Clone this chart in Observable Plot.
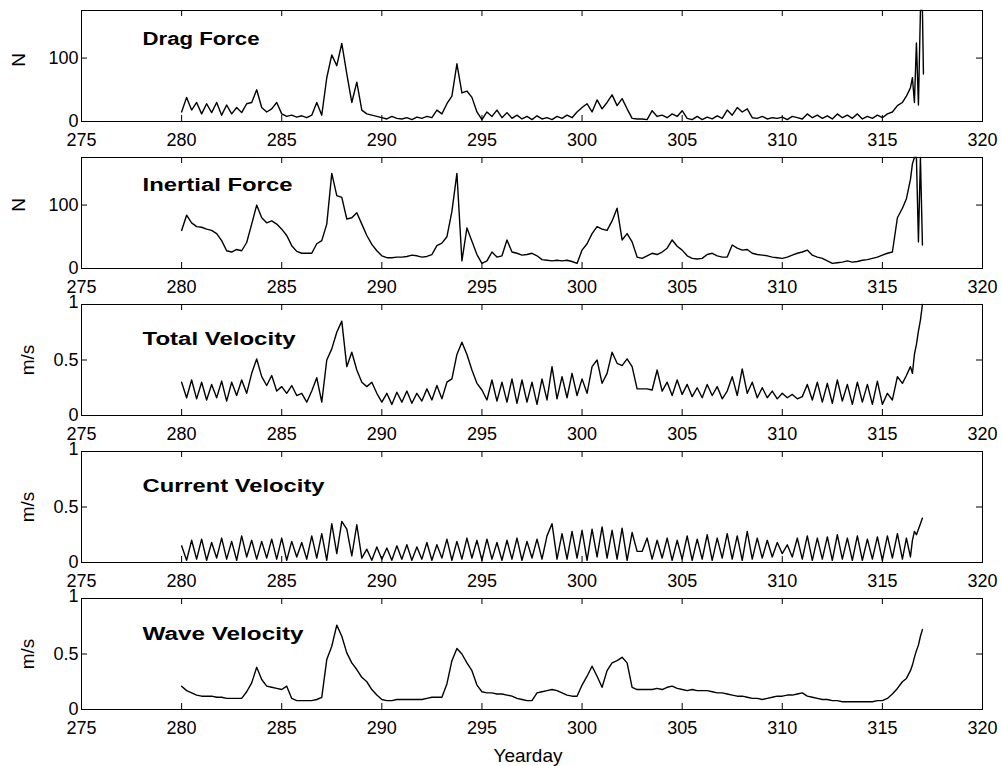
<!DOCTYPE html>
<html><head><meta charset="utf-8">
<script src="https://cdn.jsdelivr.net/npm/d3@7"></script>
<script src="https://cdn.jsdelivr.net/npm/@observablehq/plot@0.6"></script>
<style>
body{margin:0;background:#fff;}
#chart{padding-top:1px;width:1002px;}
#chart svg{display:block;}
</style></head><body><div id="chart"></div><script>
const xTicks = [275, 280, 285, 290, 295, 300, 305, 310, 315, 320];
const forceTicks = [0, 100];
const velTicks = [0, 0.5, 1];
// sampling grid: quarter days 280..315.75, then a finer tail
const mainDays = d3.range(280, 316, 0.25);
const tailDays = [316, 316.2, 316.4, 316.5, 316.6, 316.7, 316.8, 316.9, 317.0, 317.05];
const days = mainDays.concat(tailDays);

const dragForce = [
15,38,18,30, 12,28,14,30, 10,26,12,22, 14,28,30,50, 22,15,20,30,
12,8,10,7, 9,6,10,30, 10,69,105,88, 123,75,30,62, 18,12,10,8,
6,4,8,5, 4,6,3,7, 5,8,6,18, 12,28,40,91, 45,48,38,15,
3,15,8,18, 6,14,5,10, 4,8,3,9, 4,6,3,8, 5,10,6,15,
22,28,15,34, 20,30,42,25, 36,20,5,4, 4,3,17,8, 10,6,12,8,
17,5,3,8, 3,7,4,9, 5,18,10,22, 15,20,6,5, 8,4,6,5,
7,3,8,6, 4,12,6,10, 5,9,4,12, 6,10,5,12, 4,8,5,10,
6,12,15,25,
30,40,53,69,30,124,26,175,175,75];

const inertialForce = [
60,84,72,66, 65,62,60,55, 44,28,26,30, 28,41,70,100, 80,72,75,70,
62,52,36,27, 24,24,24,39, 44,70,150,115, 112,78,80,88, 70,52,38,28,
20,17,17,18, 18,19,21,20, 18,19,22,36, 40,50,90,150, 12,64,43,22,
8,12,26,18, 20,45,26,24, 21,22,24,20, 14,13,12,13, 12,13,11,8,
29,39,55,66, 62,60,75,95, 45,55,42,18, 16,20,24,22, 26,32,45,35,
29,20,16,15, 16,22,24,20, 18,18,37,32, 29,30,24,22, 21,20,18,17,
16,18,21,24, 26,29,21,18, 16,12,8,9, 10,12,10,11, 13,14,16,18,
21,24,26,80,
95,110,140,165,175,175,42,175,37,null];

const totalVelocity = [
0.30,0.16,0.32,0.15, 0.30,0.14,0.28,0.16, 0.31,0.13,0.30,0.18, 0.32,0.20,0.38,0.51, 0.35,0.27,0.36,0.22,
0.26,0.20,0.27,0.18, 0.20,0.12,0.22,0.34, 0.12,0.50,0.60,0.75, 0.85,0.44,0.57,0.41, 0.30,0.26,0.30,0.20,
0.12,0.20,0.10,0.21, 0.12,0.22,0.11,0.20, 0.13,0.24,0.14,0.27, 0.15,0.30,0.33,0.55, 0.66,0.55,0.41,0.29,
0.23,0.14,0.32,0.13, 0.30,0.12,0.33,0.11, 0.32,0.12,0.30,0.10, 0.33,0.14,0.44,0.15, 0.35,0.16,0.38,0.18,
0.33,0.20,0.44,0.50, 0.29,0.38,0.57,0.47, 0.45,0.51,0.44,0.24, 0.24,0.24,0.23,0.41, 0.22,0.30,0.18,0.32,
0.19,0.28,0.17,0.25, 0.16,0.28,0.18,0.26, 0.15,0.22,0.35,0.18, 0.42,0.20,0.30,0.16, 0.25,0.16,0.22,0.15,
0.20,0.16,0.19,0.15, 0.17,0.28,0.14,0.30, 0.12,0.29,0.11,0.32, 0.13,0.28,0.10,0.30, 0.12,0.28,0.10,0.31,
0.10,0.20,0.14,0.35,
0.29,0.36,0.44,0.38,0.55,0.64,0.76,0.86,1.0,null];

const currentVelocity = [
0.15,0.02,0.20,0.03, 0.21,0.02,0.18,0.04, 0.22,0.03,0.19,0.02, 0.24,0.05,0.20,0.03, 0.19,0.04,0.21,0.03,
0.22,0.02,0.19,0.05, 0.18,0.03,0.24,0.04, 0.26,0.02,0.35,0.08, 0.37,0.30,0.06,0.34, 0.04,0.12,0.02,0.14,
0.03,0.13,0.02,0.15, 0.03,0.16,0.02,0.14, 0.03,0.18,0.02,0.16, 0.04,0.21,0.02,0.19, 0.03,0.22,0.04,0.20,
0.02,0.21,0.03,0.18, 0.02,0.20,0.03,0.22, 0.02,0.19,0.04,0.21, 0.03,0.24,0.35,0.03, 0.26,0.03,0.28,0.04,
0.29,0.02,0.30,0.05, 0.32,0.04,0.29,0.03, 0.31,0.02,0.27,0.10, 0.10,0.22,0.03,0.20, 0.04,0.22,0.02,0.20,
0.03,0.24,0.02,0.21, 0.03,0.25,0.02,0.22, 0.04,0.26,0.03,0.24, 0.02,0.28,0.03,0.22, 0.04,0.20,0.05,0.18,
0.08,0.16,0.05,0.22, 0.03,0.24,0.02,0.22, 0.03,0.23,0.02,0.25, 0.03,0.22,0.02,0.24, 0.02,0.21,0.03,0.23,
0.02,0.24,0.04,0.26,
0.03,0.22,0.05,0.20,0.28,0.25,0.30,0.35,0.40,null];

const waveVelocity = [
0.21,0.17,0.15,0.13, 0.12,0.12,0.12,0.11, 0.11,0.10,0.10,0.10, 0.10,0.16,0.24,0.38, 0.27,0.21,0.20,0.19,
0.18,0.21,0.10,0.08, 0.08,0.08,0.08,0.09, 0.11,0.45,0.57,0.76, 0.66,0.51,0.42,0.36, 0.29,0.25,0.18,0.13,
0.09,0.08,0.08,0.09, 0.09,0.09,0.09,0.09, 0.09,0.10,0.11,0.11, 0.11,0.23,0.44,0.55, 0.50,0.42,0.35,0.22,
0.16,0.15,0.15,0.14, 0.14,0.13,0.12,0.10, 0.09,0.08,0.08,0.15, 0.16,0.17,0.18,0.17, 0.15,0.13,0.12,0.12,
0.22,0.30,0.39,0.30, 0.20,0.35,0.42,0.44, 0.47,0.42,0.20,0.18, 0.18,0.18,0.18,0.19, 0.18,0.20,0.21,0.19,
0.18,0.17,0.18,0.17, 0.17,0.17,0.16,0.15, 0.15,0.14,0.13,0.12, 0.12,0.11,0.10,0.10, 0.09,0.10,0.11,0.12,
0.12,0.13,0.13,0.14, 0.15,0.12,0.11,0.10, 0.09,0.09,0.08,0.08, 0.07,0.07,0.07,0.07, 0.07,0.07,0.07,0.08,
0.08,0.10,0.14,0.19,
0.25,0.28,0.35,0.40,0.47,0.53,0.58,0.66,0.72,null];

const panels = [
  {values: dragForce, title: "Drag Force", titleWidth: 117, unit: "N", yMax: 175, yTicks: forceTicks, titleDy: 22, unitDx: -63, unitDy: -6},
  {values: inertialForce, title: "Inertial Force", titleWidth: 150, unit: "N", yMax: 175, yTicks: forceTicks, titleDy: 21, unitDx: -63, unitDy: -8},
  {values: totalVelocity, title: "Total Velocity", titleWidth: 153, unit: "m/s", yMax: 1, yTicks: velTicks, titleDy: 28, unitDx: -54, unitDy: 0},
  {values: currentVelocity, title: "Current Velocity", titleWidth: 182, unit: "m/s", yMax: 1, yTicks: velTicks, titleDy: 28, unitDx: -54, unitDy: 0},
  {values: waveVelocity, title: "Wave Velocity", titleWidth: 161, unit: "m/s", yMax: 1, yTicks: velTicks, titleDy: 29, unitDx: -54, unitDy: 0}
];

const W = 1002, ML = 81, MR = 20, MT = 9;
const font = "'Liberation Sans', Arial, Helvetica, sans-serif";
const chart = document.getElementById("chart");

panels.forEach((p, k) => {
  const last = k === panels.length - 1;
  const MB = last ? 57 : 27;
  const H = last ? 177 : 147;
  const fh = H - MT - MB;
  const fw = W - ML - MR;
  const data = days.map((d, i) => ({day: d, v: p.values[i]}));
  const marks = [
    Plot.frame({stroke: "#000", strokeWidth: 1}),
    Plot.tickX(xTicks.slice(1, -1), {x: d => d, insetTop: fh - 6, stroke: "#000"}),
    Plot.tickX(xTicks.slice(1, -1), {x: d => d, insetBottom: fh - 6, stroke: "#000"}),
    Plot.tickY(p.yTicks.slice(1), {y: d => d, insetRight: fw - 6, stroke: "#000"}),
    Plot.tickY(p.yTicks.slice(1), {y: d => d, insetLeft: fw - 6, stroke: "#000"}),
    Plot.line(data, {x: "day", y: "v", stroke: "#000", strokeWidth: 1.4, strokeLinejoin: "round"}),
    Plot.text([p.title], {frameAnchor: "top-left", textAnchor: "start", lineAnchor: "top", dx: 61, dy: p.titleDy, fontWeight: "bold", fontSize: 18, fill: "#000"}),
    Plot.text([p.unit], {frameAnchor: "left", textAnchor: "middle", lineAnchor: "middle", rotate: -90, dx: p.unitDx, dy: p.unitDy, fontSize: 19, fill: "#000"})
  ];
  if (last) {
    marks.push(Plot.text(["Yearday"], {frameAnchor: "bottom", textAnchor: "middle", lineAnchor: "top", dx: -4, dy: 39, fontSize: 19, fill: "#000"}));
  }
  const svg = Plot.plot({
    width: W, height: H,
    marginLeft: ML, marginRight: MR, marginTop: MT, marginBottom: MB,
    style: {fontFamily: font, fontSize: "18px", color: "#000", background: "#fff", overflow: "visible"},
    x: {domain: [275, 320], ticks: xTicks, tickSize: 0, tickPadding: 12, tickFormat: d => String(d), label: null},
    y: {domain: [0, p.yMax], ticks: p.yTicks, tickSize: 0, tickPadding: 3, tickFormat: d => String(d), label: null},
    marks
  });
  const sel = d3.select(svg).selectAll("text");
  // stretch the bold panel titles to the wide lettering of the original
  sel.filter(function() { return this.textContent === p.title; })
    .attr("textLength", p.titleWidth).attr("lengthAdjust", "spacingAndGlyphs");
  // nudge the top "1" tick label down slightly so it clears the labels above
  sel.filter(function() { return this.textContent === "1"; })
    .attr("y", function() { return (parseFloat(this.getAttribute("y")) || 0) + 3; });
  chart.appendChild(svg);
});
</script></body></html>
